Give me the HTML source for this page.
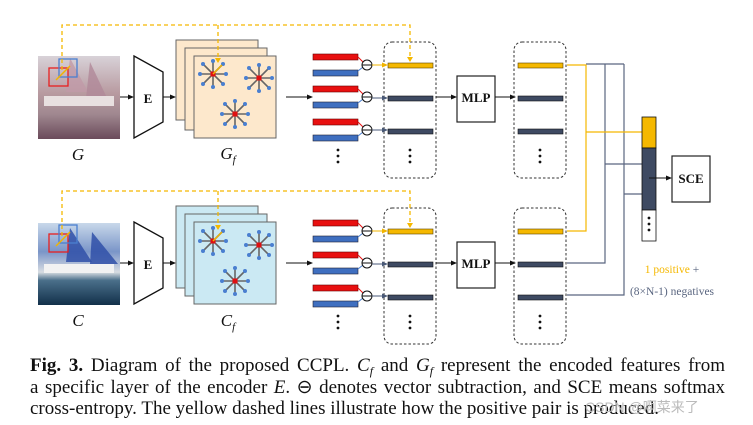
<!DOCTYPE html>
<html><head><meta charset="utf-8"><style>
html,body{margin:0;padding:0;background:#fff;width:753px;height:425px;overflow:hidden}
.cap{position:absolute;left:30px;top:355px;width:695px;font-family:"Liberation Serif",serif;font-size:19px;line-height:21.5px;color:#111}
.cap div{white-space:nowrap;text-align:justify;text-align-last:justify;height:21.5px}
.s{font-size:12px;position:relative;top:4px;line-height:0}
</style></head><body>
<svg width="753" height="425" style="position:absolute;left:0;top:0" xmlns="http://www.w3.org/2000/svg">
<defs>
<marker id="ah" markerWidth="6" markerHeight="6" refX="5" refY="3" orient="auto"><path d="M0,0.5 L6,3 L0,5.5z" fill="#111"/></marker>
<marker id="ay" markerWidth="6" markerHeight="6" refX="5" refY="3" orient="auto"><path d="M0,0.5 L6,3 L0,5.5z" fill="#f0b400"/></marker>
<marker id="ag" markerWidth="6" markerHeight="6" refX="5" refY="3" orient="auto"><path d="M0,0.5 L6,3 L0,5.5z" fill="#4a5a78"/></marker>
<g id="star">
<g stroke="#666" stroke-width="1.6">
<line x1="-13" y1="0" x2="13" y2="0"/><line x1="0" y1="-13" x2="0" y2="13"/>
<line x1="-10" y1="-10" x2="10" y2="10"/><line x1="-10" y1="10" x2="10" y2="-10"/></g>
<g fill="#4a7fd0"><circle cx="-13" cy="0" r="2"/><circle cx="13" cy="0" r="2"/><circle cx="0" cy="-13" r="2"/><circle cx="0" cy="13" r="2"/><circle cx="-10" cy="-10" r="2"/><circle cx="10" cy="10" r="2"/><circle cx="-10" cy="10" r="2"/><circle cx="10" cy="-10" r="2"/></g>
<rect x="-2.5" y="-2.5" width="5" height="5" fill="#e01010"/>
</g>
<g id="pair">
<rect x="313" y="0" width="45" height="6" fill="#e81010" stroke="#600" stroke-width="0.6"/>
<rect x="313" y="16" width="45" height="6" fill="#3f6fc0" stroke="#223" stroke-width="0.6"/>
<line x1="358" y1="3" x2="364" y2="9" stroke="#e81010" stroke-width="1"/>
<line x1="358" y1="17" x2="363" y2="13" stroke="#4a7fd0" stroke-width="1"/>
<circle cx="367" cy="11" r="5" fill="#fff" stroke="#111" stroke-width="1"/>
<line x1="362" y1="11" x2="372" y2="11" stroke="#111" stroke-width="1"/>
</g>
<g id="dots"><circle cx="0" cy="0" r="1.4" fill="#111"/><circle cx="0" cy="6" r="1.4" fill="#111"/><circle cx="0" cy="12" r="1.4" fill="#111"/></g>
<g id="row">
<line x1="120" y1="97" x2="133" y2="97" stroke="#111" marker-end="url(#ah)"/>
<path d="M134,56 L163,72 L163,122 L134,138z" fill="#fff" stroke="#111" stroke-width="1.3"/>
<line x1="163" y1="97" x2="175" y2="97" stroke="#111" marker-end="url(#ah)"/>
<line x1="286" y1="97" x2="312" y2="97" stroke="#111" marker-end="url(#ah)"/>
<use href="#pair" y="54"/><use href="#pair" y="86"/><use href="#pair" y="119"/>
<use href="#dots" x="338" y="150"/>
<rect x="384" y="42" width="52" height="136" rx="8" fill="none" stroke="#333" stroke-dasharray="2.5,2"/>
<rect x="388" y="63" width="45" height="5" fill="#f5b800" stroke="#5a4300" stroke-width="0.6"/>
<rect x="388" y="96" width="45" height="5" fill="#3e4a62" stroke="#111" stroke-width="0.6"/>
<rect x="388" y="129" width="45" height="5" fill="#3e4a62" stroke="#111" stroke-width="0.6"/>
<line x1="372" y1="65" x2="387" y2="65" stroke="#f0b400" marker-end="url(#ay)"/>
<line x1="372" y1="98" x2="387" y2="98" stroke="#4a5a78" marker-end="url(#ag)"/>
<line x1="372" y1="130" x2="387" y2="130" stroke="#4a5a78" marker-end="url(#ag)"/>
<use href="#dots" x="410" y="150"/>
<line x1="436" y1="97" x2="456" y2="97" stroke="#111" marker-end="url(#ah)"/>
<rect x="457" y="76" width="38" height="46" fill="#fff" stroke="#222" stroke-width="1.2"/>
<line x1="495" y1="97" x2="515" y2="97" stroke="#111" marker-end="url(#ah)"/>
<rect x="514" y="42" width="52" height="136" rx="8" fill="none" stroke="#333" stroke-dasharray="2.5,2"/>
<rect x="518" y="63" width="45" height="5" fill="#f5b800" stroke="#5a4300" stroke-width="0.6"/>
<rect x="518" y="96" width="45" height="5" fill="#3e4a62" stroke="#111" stroke-width="0.6"/>
<rect x="518" y="129" width="45" height="5" fill="#3e4a62" stroke="#111" stroke-width="0.6"/>
<use href="#dots" x="540" y="150"/>
</g>
<linearGradient id="gG" x1="0" y1="0" x2="0" y2="1"><stop offset="0" stop-color="#d8d2d8"/><stop offset="0.45" stop-color="#b89aa0"/><stop offset="0.7" stop-color="#a08890"/><stop offset="1" stop-color="#6a4a5a"/></linearGradient>
<linearGradient id="gC" x1="0" y1="0" x2="0" y2="1"><stop offset="0" stop-color="#c8d8ea"/><stop offset="0.35" stop-color="#7a95c8"/><stop offset="0.6" stop-color="#d8dde2"/><stop offset="0.7" stop-color="#4a6f8a"/><stop offset="1" stop-color="#12304a"/></linearGradient>
</defs>

<use href="#row"/>
<use href="#row" y="166"/>

<rect x="38" y="56" width="82" height="83" fill="url(#gG)"/>
<path d="M70,58 L88,92 L66,92z" fill="#c09aa8" opacity="0.8"/><path d="M90,62 L108,100 L86,98z" fill="#b08898" opacity="0.8"/>
<rect x="44" y="96" width="70" height="10" fill="#e8e0e0"/>
<rect x="49" y="68" width="19" height="18" fill="none" stroke="#e82020" stroke-width="1.3"/>
<rect x="59" y="59" width="18" height="18" fill="none" stroke="#4a7fd0" stroke-width="1.3"/>
<line x1="56" y1="80" x2="70" y2="66" stroke="#f0b400" stroke-width="1.5"/>
<rect x="38" y="223" width="82" height="82" fill="url(#gC)"/>
<path d="M70,228 L92,262 L66,262z" fill="#3050a8" opacity="0.85"/><path d="M92,232 L118,264 L90,264z" fill="#3050a8" opacity="0.85"/>
<rect x="44" y="264" width="70" height="9" fill="#f2f2f2"/>
<rect x="49" y="234" width="19" height="18" fill="none" stroke="#e82020" stroke-width="1.3"/>
<rect x="59" y="225" width="18" height="18" fill="none" stroke="#4a7fd0" stroke-width="1.3"/>
<line x1="56" y1="246" x2="70" y2="232" stroke="#f0b400" stroke-width="1.5"/>

<g stroke="#666" stroke-width="1">
<rect x="176" y="40" width="82" height="80" fill="#fde8cc"/><rect x="185" y="48" width="82" height="82" fill="#fde8cc"/><rect x="194" y="56" width="82" height="82" fill="#fde8cc"/>
<rect x="176" y="206" width="82" height="82" fill="#cbe9f3"/><rect x="185" y="214" width="82" height="82" fill="#cbe9f3"/><rect x="194" y="222" width="82" height="82" fill="#cbe9f3"/>
</g>
<use href="#star" x="213" y="74"/><use href="#star" x="259" y="78"/><use href="#star" x="235" y="114"/>
<use href="#star" x="213" y="241"/><use href="#star" x="259" y="245"/><use href="#star" x="235" y="281"/>
<line x1="213" y1="74" x2="222" y2="65" stroke="#f0b400" stroke-width="1.5"/>
<line x1="213" y1="241" x2="222" y2="232" stroke="#f0b400" stroke-width="1.5"/>

<g fill="none" stroke="#f5b800" stroke-width="1.3" stroke-dasharray="4,3">
<path d="M62,70 L62,25 L410,25 L410,61"/>
<path d="M218,25 L218,62"/>
<path d="M62,236 L62,191 L410,191 L410,227"/>
<path d="M218,191 L218,229"/>
</g>
<path d="M407,57 L410,62 L413,57z" fill="#f5b800"/><path d="M407,223 L410,228 L413,223z" fill="#f5b800"/>
<path d="M215,58 L218,63 L221,58z" fill="#f5b800"/><path d="M215,225 L218,230 L221,225z" fill="#f5b800"/>

<g fill="none" stroke-width="1.2">
<path d="M624,64 L624,295 L567,295" stroke="#5a6680"/>
<path d="M605,64 L605,263 L567,263" stroke="#5a6680"/>
<path d="M586,64 L624,64" stroke="#5a6680"/>
<path d="M624,194 L642,194" stroke="#5a6680"/>
<path d="M605,164 L642,164" stroke="#5a6680"/>
<path d="M567,65 L586,65 L586,231 L567,231" stroke="#f5b800"/>
<path d="M586,132 L642,132" stroke="#f5b800"/>
</g>
<rect x="642" y="117" width="14" height="31" fill="#f5b800" stroke="#111" stroke-width="0.8"/>
<rect x="642" y="148" width="14" height="62" fill="#3e4a62" stroke="#111" stroke-width="0.8"/>
<rect x="642" y="210" width="14" height="31" fill="#fff" stroke="#111" stroke-width="0.8"/>
<use href="#dots" x="649" y="218"/>
<line x1="649" y1="178" x2="671" y2="178" stroke="#111" marker-end="url(#ah)"/>
<rect x="672" y="156" width="38" height="46" fill="#fff" stroke="#222" stroke-width="1.2"/>

<g font-family="Liberation Serif,serif" font-weight="bold" font-size="13" fill="#111" text-anchor="middle">
<text x="148" y="103">E</text><text x="148" y="269">E</text>
<text x="476" y="102">MLP</text><text x="476" y="268">MLP</text>
<text x="691" y="183">SCE</text>
</g>
<g font-family="Liberation Serif,serif" font-style="italic" font-size="17" fill="#111" text-anchor="middle">
<text x="78" y="160">G</text><text x="78" y="326">C</text>
<text x="228" y="159">G<tspan font-size="11" dy="4">f</tspan></text>
<text x="228" y="326">C<tspan font-size="11" dy="4">f</tspan></text>
</g>
<g font-family="Liberation Serif,serif" font-size="11.5" text-anchor="middle">
<text x="672" y="273"><tspan fill="#f5b800">1 positive </tspan><tspan fill="#5a6680">+</tspan></text>
<text x="672" y="295" fill="#5a6680">(8×N-1) negatives</text>
</g>
</svg>
<div class="cap">
<div><b>Fig. 3.</b> Diagram of the proposed CCPL. <i>C<span class="s">f</span></i> and <i>G<span class="s">f</span></i> represent the encoded features from</div>
<div>a specific layer of the encoder <i>E</i>. ⊖ denotes vector subtraction, and SCE means softmax</div>
<div style="text-align-last:left">cross-entropy. The yellow dashed lines illustrate how the positive pair is produced.</div>
</div>
<div style="position:absolute;left:585px;top:397px;font-family:'Liberation Sans','Noto Sans CJK SC',sans-serif;font-size:14px;color:#bbb">CSDN @啊菜来了</div>
</body></html>
